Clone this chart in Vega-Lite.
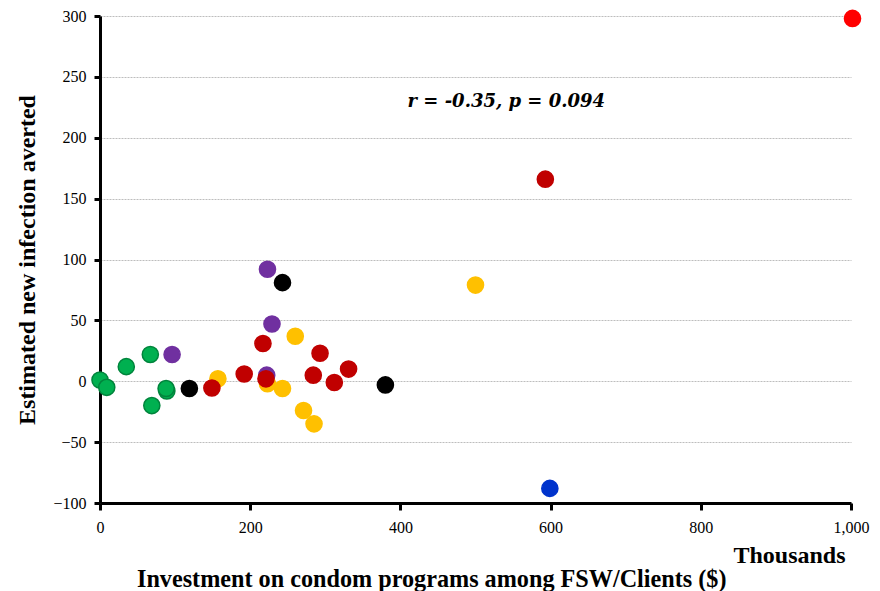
{
  "$schema": "https://vega.github.io/schema/vega-lite/v6.json",
  "autosize": {"type": "none"},
  "width": 751,
  "height": 487,
  "padding": {"left": 100, "top": 16, "right": 29, "bottom": 88},
  "background": "white",
  "config": {
    "view": {"stroke": null},
    "font": "Liberation Serif"
  },
  "title": {
    "text": "Investment on condom programs among FSW/Clients ($)",
    "orient": "bottom",
    "anchor": "start",
    "frame": "group",
    "dx": 37,
    "offset": 20,
    "baseline": "alphabetic",
    "font": "Liberation Serif",
    "fontSize": 24.2,
    "fontWeight": "bold",
    "color": "black"
  },
  "datasets": {
    "programs": [
      {"investment": 0, "averted": 1, "group": "A"},
      {"investment": 9, "averted": -5, "group": "A"},
      {"investment": 35, "averted": 12, "group": "A"},
      {"investment": 67, "averted": 22, "group": "A"},
      {"investment": 69, "averted": -20, "group": "A"},
      {"investment": 89, "averted": -8, "group": "A"},
      {"investment": 88, "averted": -6, "group": "A"},
      {"investment": 96, "averted": 22, "group": "B"},
      {"investment": 229, "averted": 47, "group": "B"},
      {"investment": 222, "averted": 5, "group": "B"},
      {"investment": 223, "averted": 92, "group": "B"},
      {"investment": 119, "averted": -6, "group": "C"},
      {"investment": 380, "averted": -3, "group": "C"},
      {"investment": 243, "averted": 81, "group": "C"},
      {"investment": 157, "averted": 2, "group": "D"},
      {"investment": 223, "averted": -2, "group": "D"},
      {"investment": 260, "averted": 37, "group": "D"},
      {"investment": 243, "averted": -6, "group": "D"},
      {"investment": 271, "averted": -24, "group": "D"},
      {"investment": 285, "averted": -35, "group": "D"},
      {"investment": 500, "averted": 79, "group": "D"},
      {"investment": 149, "averted": -5.5, "group": "E"},
      {"investment": 192, "averted": 6, "group": "E"},
      {"investment": 217, "averted": 31, "group": "E"},
      {"investment": 221, "averted": 2, "group": "E"},
      {"investment": 293, "averted": 23, "group": "E"},
      {"investment": 284, "averted": 5, "group": "E"},
      {"investment": 312, "averted": -1, "group": "E"},
      {"investment": 331, "averted": 10, "group": "E"},
      {"investment": 593, "averted": 166, "group": "E"},
      {"investment": 599, "averted": -88, "group": "F"},
      {"investment": 1002, "averted": 298, "group": "G"}
    ],
    "stats": [
      {"investment": 541, "averted": 229, "label": "r = -0.35, p = 0.094"}
    ]
  },
  "layer": [
    {
      "data": {"name": "programs"},
      "mark": {"type": "point", "filled": true, "opacity": 1, "size": 260, "clip": false},
      "encoding": {
        "x": {
          "field": "investment",
          "type": "quantitative",
          "scale": {"domain": [0, 1000], "nice": false, "zero": false},
          "axis": {
            "title": "Thousands",
            "titleX": 745,
            "titleY": 59,
            "titleAlign": "right",
            "titleBaseline": "alphabetic",
            "titleFont": "Liberation Serif",
            "titleFontSize": 24,
            "titleFontWeight": "bold",
            "titleColor": "black",
            "values": [0, 200, 400, 600, 800, 1000],
            "format": ",d",
            "grid": false,
            "domainColor": "black",
            "domainWidth": 3,
            "tickColor": "black",
            "tickWidth": 3,
            "tickSize": 7,
            "labelFont": "Liberation Serif",
            "labelFontSize": 16,
            "labelColor": "black",
            "labelPadding": 9,
            "labelFlush": false
          }
        },
        "y": {
          "field": "averted",
          "type": "quantitative",
          "scale": {"domain": [-100, 300], "nice": false, "zero": false},
          "axis": {
            "title": "Estimated new infection averted",
            "titleX": -73,
            "titleY": 243.5,
            "titleAngle": -90,
            "titleAlign": "center",
            "titleBaseline": "middle",
            "titleFont": "Liberation Serif",
            "titleFontSize": 24,
            "titleFontWeight": "bold",
            "titleColor": "black",
            "values": [-100, -50, 0, 50, 100, 150, 200, 250, 300],
            "grid": true,
            "gridColor": "#bdbdbd",
            "gridDash": [2, 1],
            "gridWidth": 1,
            "domainColor": "black",
            "domainWidth": 3,
            "tickColor": "black",
            "tickWidth": 3,
            "tickSize": 6,
            "labelFont": "Liberation Serif",
            "labelFontSize": 16,
            "labelColor": "black",
            "labelPadding": 8,
            "labelFlush": false
          }
        },
        "color": {
          "field": "group",
          "type": "nominal",
          "scale": {
            "domain": ["A", "B", "C", "D", "E", "F", "G"],
            "range": ["#00b050", "#7030a0", "#000000", "#ffc000", "#c00000", "#0033cc", "#ff0000"]
          },
          "legend": null
        },
        "stroke": {
          "field": "group",
          "type": "nominal",
          "scale": {
            "domain": ["A", "B", "C", "D", "E", "F", "G"],
            "range": ["#00843c", "#7030a0", "#000000", "#ffc000", "#c00000", "#0033cc", "#ff0000"]
          },
          "legend": null
        },
        "strokeWidth": {"value": 1.5}
      }
    },
    {
      "data": {"name": "stats"},
      "mark": {
        "type": "text",
        "font": "DejaVu Serif",
        "fontSize": 18,
        "fontWeight": "bold",
        "fontStyle": "italic",
        "color": "black",
        "align": "center",
        "baseline": "middle"
      },
      "encoding": {
        "x": {"field": "investment", "type": "quantitative"},
        "y": {"field": "averted", "type": "quantitative"},
        "text": {"field": "label"}
      }
    }
  ]
}
